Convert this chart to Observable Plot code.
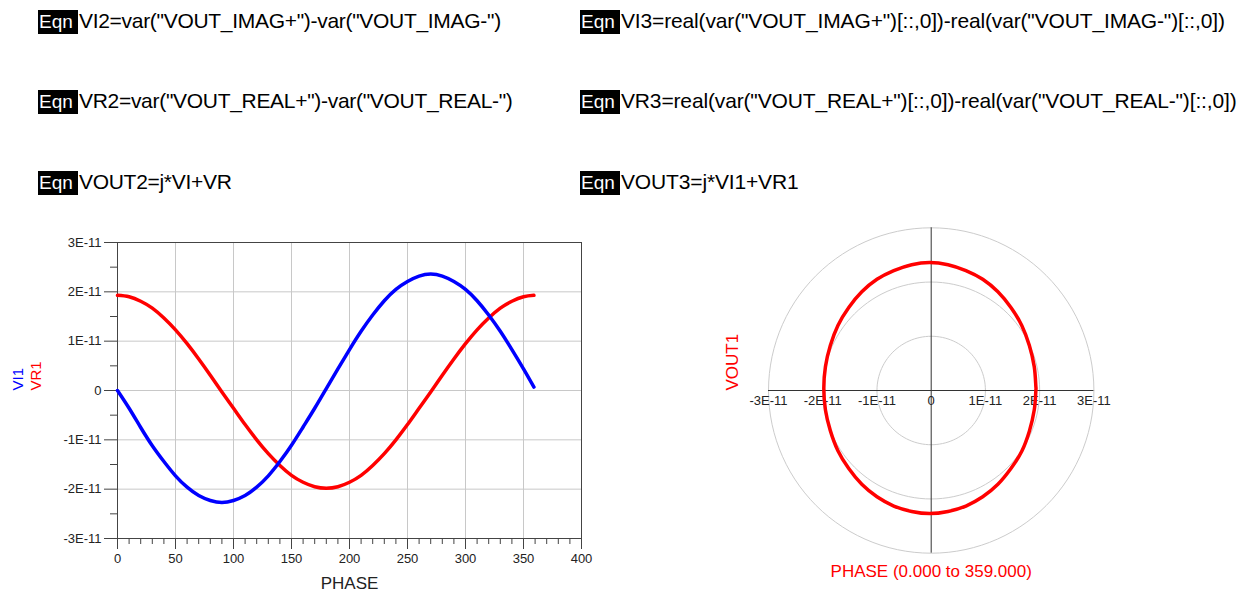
<!DOCTYPE html>
<html><head><meta charset="utf-8">
<script src="https://cdn.jsdelivr.net/npm/d3@7"></script>
<script src="https://cdn.jsdelivr.net/npm/@observablehq/plot@0.6"></script>
<style>
html,body{margin:0;padding:0;background:#fff;}
body{width:1242px;height:594px;overflow:hidden;position:relative;font-family:"Liberation Sans",Arial,sans-serif;}
.row{position:absolute;display:flex;align-items:baseline;white-space:nowrap;color:#000;}
.tag{display:inline-block;background:#000;color:#fff;height:24px;line-height:24px;width:39px;padding-left:1px;font-size:19px;margin-right:1px;}
.txt{font-size:21px;line-height:24px;letter-spacing:-0.3px;}
.r .txt{letter-spacing:-0.15px;}
#left{position:absolute;left:0;top:220px;}
#right{position:absolute;left:700px;top:220px;}
svg{overflow:visible;}
</style></head><body>
<div id="eqs"></div>
<div id="left"></div>
<div id="right"></div>
<script>
// ---- text content ----
const equationsLeft = ['VI2=var("VOUT_IMAG+")-var("VOUT_IMAG-")', 'VR2=var("VOUT_REAL+")-var("VOUT_REAL-")', 'VOUT2=j*VI+VR'];
const equationsRight = ['VI3=real(var("VOUT_IMAG+")[::,0])-real(var("VOUT_IMAG-")[::,0])', 'VR3=real(var("VOUT_REAL+")[::,0])-real(var("VOUT_REAL-")[::,0])', 'VOUT3=j*VI1+VR1'];

// ---- data (values in units of 1E-11) ----
const phase = [0,10,20,30,40,50,60,70,80,90,100,110,120,130,140,150,160,170,180,190,200,210,220,230,240,250,260,270,280,290,300,310,320,330,340,350,359];
const VI1 = [0.00,-0.36,-0.75,-1.12,-1.44,-1.73,-1.96,-2.13,-2.23,-2.27,-2.23,-2.13,-1.96,-1.73,-1.44,-1.11,-0.74,-0.36,0.04,0.44,0.83,1.20,1.53,1.82,2.05,2.21,2.32,2.36,2.32,2.21,2.05,1.82,1.53,1.20,0.83,0.44,0.07];
const VR1 = [1.93,1.90,1.81,1.67,1.47,1.23,0.95,0.64,0.31,-0.03,-0.36,-0.69,-1.00,-1.28,-1.52,-1.72,-1.86,-1.95,-1.98,-1.95,-1.86,-1.72,-1.52,-1.28,-1.00,-0.69,-0.36,-0.03,0.31,0.64,0.95,1.23,1.47,1.67,1.81,1.90,1.93];

// ---- ticks ----
const xMajor = [0,50,100,150,200,250,300,350,400];
const xMinor = [10,20,30,40,60,70,80,90,110,120,130,140,160,170,180,190,210,220,230,240,260,270,280,290,310,320,330,340,360,370,380,390];
const yMajor = [-3,-2,-1,0,1,2,3];
const yMinor = [-2.5,-1.5,-0.5,0.5,1.5,2.5];
const polarTicks = [-3,-2,-1,0,1,2,3];
const polarRings = [1,2,3];

const fmtE = d => d === 0 ? "0" : `${d}E-11`;

// equations
const eqs = document.getElementById("eqs");
const rowTops = [9, 89, 170];
[[equationsLeft, 38, "l"], [equationsRight, 580, "r"]].forEach(([list, left, cls]) => {
  list.forEach((t, i) => {
    const r = document.createElement("div");
    r.className = "row " + cls;
    r.style.left = left + "px";
    r.style.top = rowTops[i] + "px";
    const tag = document.createElement("span"); tag.className = "tag"; tag.textContent = "Eqn";
    const tx = document.createElement("span"); tx.className = "txt"; tx.textContent = t;
    r.append(tag, tx);
    eqs.append(r);
  });
});

const rows = phase.map((p, i) => ({phase: p, VI1: VI1[i], VR1: VR1[i]}));
const font = "Liberation Sans, Arial, sans-serif";

const left = Plot.plot({
  width: 600, height: 374,
  marginLeft: 117, marginRight: 19, marginTop: 22, marginBottom: 56,
  style: {fontFamily: font, fontSize: "13px", background: "transparent", color: "#222", overflow: "visible"},
  x: {domain: [0, 400]},
  y: {domain: [-3, 3]},
  marks: [
    Plot.gridX(xMajor.filter(v => v > 0 && v < 400), {stroke: "#c8c8c8", strokeOpacity: 1}),
    Plot.gridY(yMajor.filter(v => v > -3 && v < 3), {stroke: "#c8c8c8", strokeOpacity: 1}),
    Plot.frame({stroke: "#444"}),
    Plot.axisY(yMajor, {tickSize: 13, tickPadding: 3, tickFormat: fmtE, label: null, stroke: "#444", fontSize: 13}),
    Plot.axisY(yMinor, {tickSize: 7, text: null, label: null, stroke: "#444"}),
    Plot.axisX(xMajor, {tickSize: 11, tickPadding: 4, label: null, stroke: "#444", fontSize: 13}),
    Plot.axisX(xMinor, {tickSize: 6, text: null, label: null, stroke: "#444"}),
    Plot.line(rows, {x: "phase", y: "VR1", stroke: "#ff0000", strokeWidth: 3.5, curve: "natural"}),
    Plot.line(rows, {x: "phase", y: "VI1", stroke: "#0000ff", strokeWidth: 3.5, curve: "natural"}),
    Plot.text(["VI1"], {frameAnchor: "left", dx: -99, rotate: -90, fill: "#0000ff", fontSize: 15}),
    Plot.text(["VR1"], {frameAnchor: "left", dx: -81, rotate: -90, fill: "#ff0000", fontSize: 15}),
    Plot.text(["PHASE"], {frameAnchor: "bottom", dy: 50, fill: "#222", fontSize: 17})
  ]
});
document.getElementById("left").append(left);

// grid rings of the polar plot
const ringPts = polarRings.flatMap(r => d3.range(0, 361, 3).map(a => ({r, x: r * Math.cos(a * Math.PI / 180), y: r * Math.sin(a * Math.PI / 180)})));

const right = Plot.plot({
  width: 440, height: 374,
  marginLeft: 68, marginRight: 46.6, marginTop: 7.3, marginBottom: 41.3,
  style: {fontFamily: font, fontSize: "13px", background: "transparent", color: "#222", overflow: "visible"},
  x: {domain: [-3, 3], axis: null},
  y: {domain: [-3, 3], axis: null},
  marks: [
    Plot.line(ringPts, {x: "x", y: "y", z: "r", stroke: "#cccccc", strokeWidth: 1}),
    Plot.ruleX([0], {y1: -3, y2: 3, stroke: "#333"}),
    Plot.ruleY([0], {x1: -3, x2: 3, stroke: "#333"}),
    Plot.text(polarTicks, {x: d => d, y: 0, dy: 10, text: fmtE, fill: "#222", fontSize: 13}),
    Plot.line(rows, {x: "VR1", y: "VI1", stroke: "#ff0000", strokeWidth: 3.5, curve: "cardinal-closed"}),
    Plot.text(["VOUT1"], {frameAnchor: "left", dx: -36.3, rotate: -90, fill: "#ff0000", fontSize: 17}),
    Plot.text(["PHASE (0.000 to 359.000)"], {frameAnchor: "bottom", dy: 23.3, fill: "#ff0000", fontSize: 17})
  ]
});
document.getElementById("right").append(right);
</script>
</body></html>
